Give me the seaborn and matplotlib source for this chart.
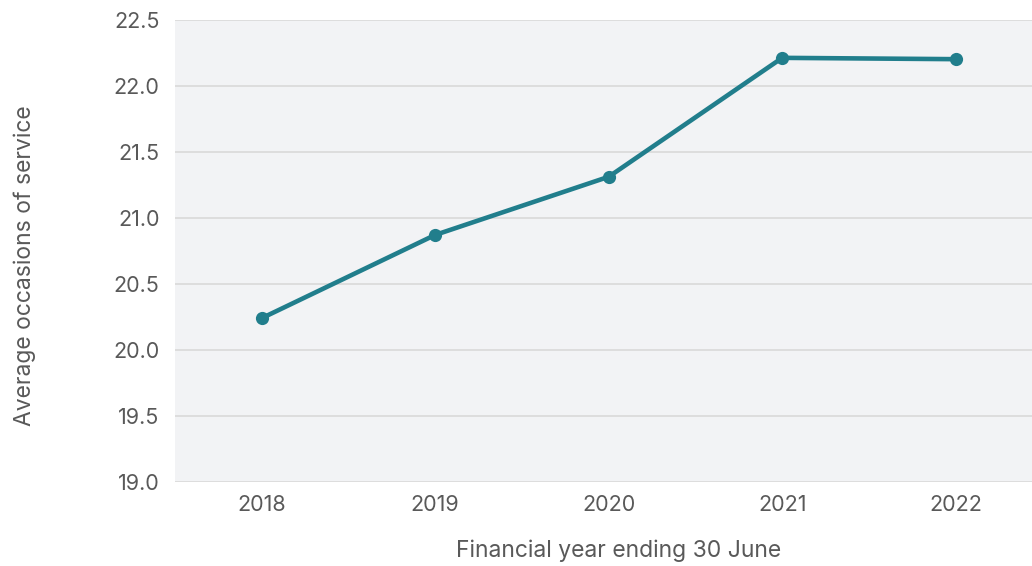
import matplotlib
matplotlib.use('Agg')
import matplotlib.pyplot as plt
import seaborn as sns
import pandas as pd

years = [2018, 2019, 2020, 2021, 2022]
avg_occasions = [20.24, 20.87, 21.31, 22.21, 22.20]
y_ticks = [19.0, 19.5, 20.0, 20.5, 21.0, 21.5, 22.0, 22.5]

df = pd.DataFrame({'year': years, 'occasions': avg_occasions})

sns.set_style('white')
plt.rcParams['font.family'] = ['Inter', 'DejaVu Sans']

text_col = '#595959'
line_col = '#217e8c'

fig = plt.figure(figsize=(10.32, 5.66), dpi=100)
ax = fig.add_axes([0.1696, 0.1484, 0.8304, 0.8171])
ax.set_facecolor('#f2f3f5')

sns.lineplot(data=df, x='year', y='occasions', ax=ax, color=line_col,
             linewidth=3.3, marker='o', markersize=9.5, markeredgewidth=0,
             zorder=3)

ax.set_xlim(2017.5, 2022.44)
ax.set_ylim(19.0, 22.5)
ax.set_yticks(y_ticks)
ax.set_yticklabels([f'{v:.1f}' for v in y_ticks])
ax.set_xticks(years)
ax.set_xticklabels([str(y) for y in years])
ax.yaxis.grid(True, color='#d9d9d9', linewidth=1.2)
ax.set_axisbelow(True)
for s in ax.spines.values():
    s.set_visible(False)
ax.tick_params(axis='both', length=0, labelsize=15.5, labelcolor=text_col)
ax.tick_params(axis='y', pad=11)
ax.tick_params(axis='x', pad=9)

ax.set_xlabel('Financial year ending 30 June', fontsize=16.5, color=text_col, labelpad=18)
ax.set_ylabel('Average occasions of service', fontsize=16.5, color=text_col, labelpad=56)
# labels in the original sit a bit off-centre
ax.xaxis.label.set_x(0.517)
ax.yaxis.label.set_y(0.467)

fig.savefig('out.png', dpi=100)
